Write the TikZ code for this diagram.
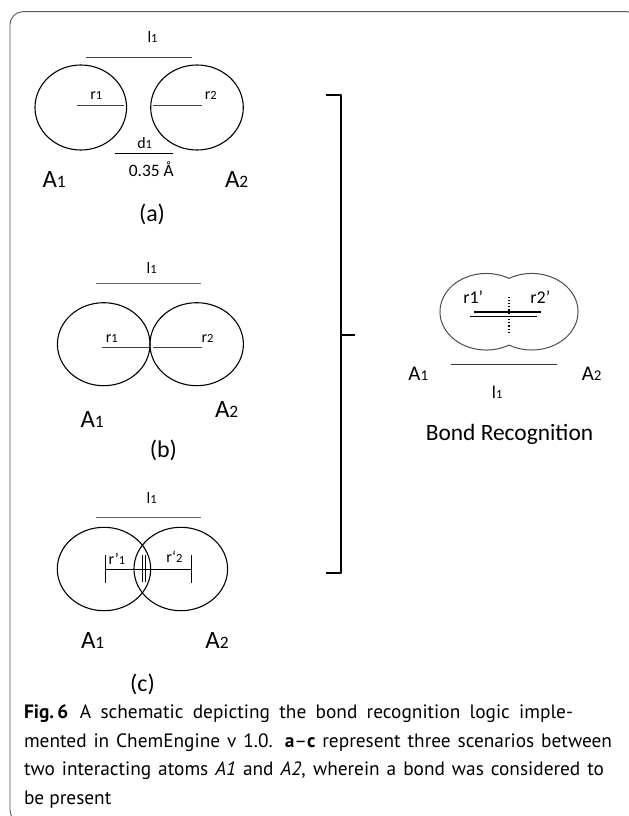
\documentclass[tikz,border=0pt]{standalone}
\usepackage{fontspec}
\setmainfont{Carlito}
\newfontfamily\capfont{PT Sans}
\usetikzlibrary{shapes.geometric}
\newcommand\atomA[1]{{\fontsize{25}{29}\selectfont A{\fontsize{17.5}{20}\selectfont #1}}}
\newcommand\mylab[2]{{\fontsize{16}{19}\selectfont #1{\fontsize{12.5}{15}\selectfont #2}}}
\begin{document}
\begin{tikzpicture}[x=1bp,y=-1bp,
  lbl/.style={inner sep=0pt, outer sep=0pt},
  atom/.style={draw, ellipse, inner sep=0pt, line width=1.1bp},
  dimline/.style={line width=0.9bp, draw=black!75},
  grayline/.style={line width=1.2bp, draw=black!60},
  captext/.style={lbl, anchor=base west, font=\capfont\fontsize{19.4}{23}\selectfont}]
\useasboundingbox (0,0) rectangle (629,816);
% frame
\draw[line width=0.9bp, draw=black!65, rounded corners=13bp] (10,11.7) rectangle (640,823);

% ---------- (a)
\node[lbl] (la) at (152.5,36.7) {\mylab{l}{1}};
\draw[dimline] (86,57) -- (192,57);
\node[atom, minimum width=91.6bp, minimum height=85bp] (a1) at (80.8,107.5) {};
\node[atom, minimum width=92.6bp, minimum height=85bp] (a2) at (197,107.5) {};
\draw[dimline] (76.7,105) -- (124,105);
\draw[dimline] (153,105) -- (201.7,105);
\node[lbl] (ra1) at (96.3,95.3) {\mylab{r}{1}};
\node[lbl] (ra2) at (210.7,95.3) {\mylab{r}{2}};
\node[lbl] (da) at (144.7,143.3) {\mylab{d}{1}};
\draw[dimline, draw=black] (115,153.3) -- (172.7,153.3);
\node[lbl, anchor=base] (dist) at (151.3,176) {\fontsize{17.5}{21}\selectfont 0.35 Å};
\node[lbl, anchor=base] (Aa1) at (54.2,187.3) {\atomA{1}};
\node[lbl, anchor=base] (Aa2) at (236.7,187.3) {\atomA{2}};
\node[lbl] (capa) at (152,214) {\fontsize{24}{28}\selectfont (a)};

% ---------- (b)
\node[lbl] (lb) at (151.7,267.5) {\mylab{l}{1}};
\draw[grayline] (96,283.3) -- (201.3,283.3);
\node[atom, minimum width=92.6bp, minimum height=83bp] (b1) at (103.7,344.2) {};
\node[atom, minimum width=93.4bp, minimum height=83bp] (b2) at (196.7,344.2) {};
\draw[dimline] (102,347.3) -- (150,347.3);
\draw[dimline] (153,347.3) -- (201.7,347.3);
\node[lbl] (rb1) at (111.8,338.3) {\mylab{r}{1}};
\node[lbl] (rb2) at (207.5,338.3) {\mylab{r}{2}};
\node[lbl, anchor=base] (Ab1) at (92.2,427) {\atomA{1}};
\node[lbl, anchor=base] (Ab2) at (226.7,417) {\atomA{2}};
\node[lbl] (capb) at (163.3,450) {\fontsize{24}{28}\selectfont (b)};

% ---------- (c)
\node[lbl] (lc) at (151.7,497.5) {\mylab{l}{1}};
\draw[grayline] (96,517.7) -- (201.3,517.7);
\node[atom, minimum width=93.4bp, minimum height=83.4bp] (c1) at (104,569) {};
\node[atom, minimum width=93.6bp, minimum height=83.4bp] (c2) at (180.8,569) {};
\draw[line width=1bp] (105.7,569.3) -- (191.7,569.3);
\draw[line width=1bp] (105.7,555) -- (105.7,583);
\draw[line width=1bp] (191.7,555) -- (191.7,583);
\draw[line width=1bp] (142.9,555) -- (142.9,582);
\draw[line width=1bp] (145.6,555) -- (145.6,582);
\node[lbl] (rc1) at (117,558.7) {\mylab{r'}{1}};
\node[lbl] (rc2) at (174.5,556.7) {\mylab{r‘}{2}};
\node[lbl, anchor=base] (Ac1) at (92.7,648.3) {\atomA{1}};
\node[lbl, anchor=base] (Ac2) at (217,648.3) {\atomA{2}};
\node[lbl] (capc) at (142.5,684) {\fontsize{24}{28}\selectfont (c)};

% ---------- brace
\draw[line width=2bp, line join=round] (326,95) -- (341,95) -- (341,573) -- (326,573);
\draw[line width=2bp] (341,335) -- (355,335);

% ---------- bond recognition
\draw[line width=1bp, draw=black!70] (509,345.1)
   arc[start angle=60.6, end angle=299.4, x radius=46.3, y radius=38.3]
   arc[start angle=240.6, end angle=479.4, x radius=46.3, y radius=38.3] -- cycle;
\draw[line width=2bp] (474,312.3) -- (540.7,312.3);
\draw[line width=1bp] (470,316) -- (537.3,316);
\draw[line width=1.2bp, dotted] (509,296.7) -- (509,335);
\node[lbl] (r1p) at (473.3,297) {\fontsize{18}{21}\selectfont r1’};
\node[lbl] (r2p) at (540.3,297) {\fontsize{18}{21}\selectfont r2’};
\draw[line width=0.9bp, draw=black!80] (451,364.3) -- (556.7,364.3);
\node[lbl, anchor=base] (Ar1) at (418.3,380) {{\fontsize{21}{25}\selectfont A{\fontsize{15}{18}\selectfont 1}}};
\node[lbl, anchor=base] (Ar2) at (591.7,380) {{\fontsize{21}{25}\selectfont A{\fontsize{15}{18}\selectfont 2}}};
\node[lbl] (lr) at (497.2,392.5) {{\fontsize{18}{21}\selectfont l{\fontsize{12.5}{15}\selectfont 1}}};
\node[lbl, anchor=base] (bond) at (509.5,440.7) {\fontsize{23.5}{28}\selectfont Bond Recognition};

% ---------- caption
\node[captext] (cap1) at (24,718.5) {\makebox[549bp][s]{\textbf{Fig.\,6}\hspace{0.6em}A schematic depicting the bond recognition logic imple-}};
\node[captext] (cap2) at (24,747) {\makebox[588bp][s]{mented in ChemEngine v 1.0. \textbf{a}–\textbf{c} represent three scenarios between}};
\node[captext] (cap3) at (24,775.5) {\makebox[580bp][s]{two interacting atoms \textit{A1} and \textit{A2}, wherein a bond was considered to}};
\node[captext] (cap4) at (24,804) {be present};
\end{tikzpicture}
\end{document}
